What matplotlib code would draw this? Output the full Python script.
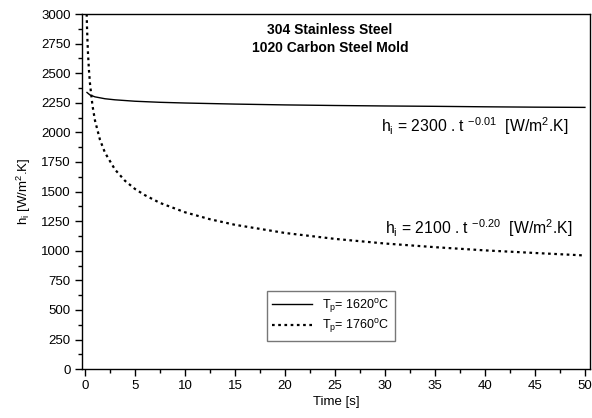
import numpy as np
import matplotlib.pyplot as plt
from matplotlib.ticker import MultipleLocator

plt.rcParams['font.family'] = ['Liberation Sans', 'DejaVu Sans']

# values
t_1620 = [0.2, 0.5, 1, 2, 3, 5, 7.5, 10, 15, 20, 25, 30, 35, 40, 45, 50]
h_1620 = [2337, 2316, 2300, 2284, 2275, 2263, 2254, 2248, 2239, 2232, 2227, 2223, 2220, 2216, 2213, 2211]

t_1760 = [0.17, 0.2, 0.25, 0.3, 0.4, 0.5, 0.75, 1, 1.5, 2, 3, 4, 5, 6, 7.5, 10, 12.5, 15,
          20, 25, 30, 35, 40, 45, 50]
h_1760 = [3000, 2895, 2770, 2668, 2520, 2412, 2225, 2100, 1937, 1828, 1686, 1591, 1522, 1469,
          1404, 1325, 1266, 1219, 1150, 1100, 1061, 1030, 1003, 981, 960]

labels = [r'T$_\mathregular{p}$= 1620$^\mathregular{o}$C', r'T$_\mathregular{p}$= 1760$^\mathregular{o}$C']

fig = plt.figure(figsize=(5.92, 4.18), dpi=100)
ax = fig.add_axes([0.1385, 0.117, 0.858, 0.8495])

ax.plot(t_1620, h_1620, color='black', lw=1.0, label=labels[0])
ax.plot(t_1760, h_1760, color='black', lw=1.6, linestyle=(0, (1.2, 1.6)), label=labels[1])

ax.set_xlim(-0.3, 50.5)
ax.set_ylim(0, 3000)
ax.xaxis.set_major_locator(MultipleLocator(5))
ax.xaxis.set_minor_locator(MultipleLocator(2.5))
ax.yaxis.set_major_locator(MultipleLocator(250))
ax.yaxis.set_minor_locator(MultipleLocator(125))
ax.tick_params(which='major', direction='out', length=5, width=1, labelsize=9.5, pad=3)
ax.tick_params(which='minor', direction='out', length=3, width=1)
for s in ax.spines.values():
    s.set_linewidth(1.0)

ax.set_xlabel('Time [s]', fontsize=9.5, labelpad=3)
ax.set_ylabel(r'h$_\mathregular{i}$ [W/m$^\mathregular{2}$.K]', fontsize=9.5, labelpad=6)

ax.text(24.5, 2790, '304 Stainless Steel\n1020 Carbon Steel Mold', ha='center', va='center',
        fontsize=10, fontweight='bold', linespacing=1.35)
ax.text(29.6, 2050, r'h$_\mathregular{i}$ = 2300 . t $^\mathregular{-0.01}$  [W/m$^\mathregular{2}$.K]',
        fontsize=11.3, va='center')
ax.text(30.0, 1190, r'h$_\mathregular{i}$ = 2100 . t $^\mathregular{-0.20}$  [W/m$^\mathregular{2}$.K]',
        fontsize=11.3, va='center')

leg = ax.legend(loc='center', bbox_to_anchor=(0.49, 0.149), fontsize=9, frameon=True,
                fancybox=False, edgecolor='#555555', handlelength=3.2, borderpad=0.45,
                labelspacing=0.2)
leg.get_frame().set_linewidth(1.0)

fig.savefig('out.png', dpi=100)
